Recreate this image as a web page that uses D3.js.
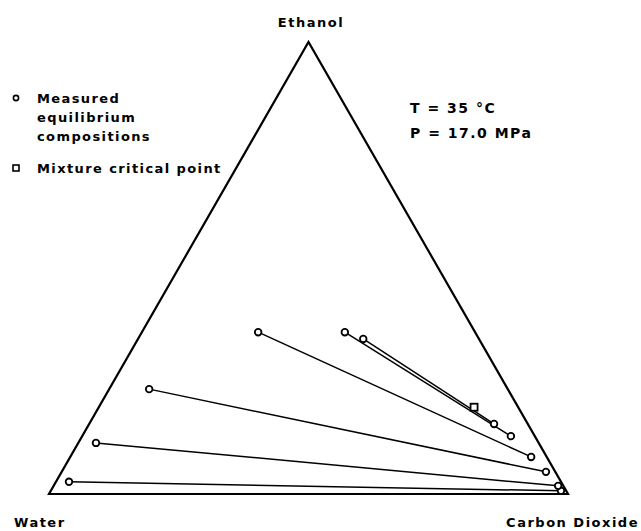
<!DOCTYPE html>
<html>
<head>
<meta charset="utf-8">
<script src="https://cdn.jsdelivr.net/npm/d3@7"></script>
<style>
  body { margin: 0; background: #fff; }
  text { font-family: "DejaVu Sans", sans-serif; font-weight: bold; fill: #000; }
</style>
</head>
<body>
<div id="chart"></div>
<script>
// Mass fractions (tie lines: liquid -> vapor)
const liqEthanol = [0.027, 0.113, 0.232, 0.358, 0.358, 0.343];
const liqCO2     = [0.025, 0.034, 0.077, 0.224, 0.391, 0.434];
const vapEthanol = [0.007, 0.018, 0.049, 0.082, 0.128, 0.155];
const vapCO2     = [0.983, 0.972, 0.933, 0.888, 0.826, 0.780];
const criticalEthanol = [0.192];
const criticalCO2     = [0.723];

const vertexLabels = ["Water", "Carbon Dioxide", "Ethanol"];
const legendLabels = [["Measured", "equilibrium", "compositions"], ["Mixture critical point"]];
const conditionLabels = ["T = 35 °C", "P = 17.0 MPa"];

const width = 641, height = 531;

const svg = d3.select("#chart").append("svg")
    .attr("width", width)
    .attr("height", height);

// ternary projection: x from CO2 + ethanol/2, y from ethanol
const x = d3.scaleLinear().domain([0, 1]).range([49, 568]);
const y = d3.scaleLinear().domain([0, 1]).range([494, 42]);
const px = (e, c) => x(c + e / 2);
const py = e => y(e);

// Triangle
const corners = [[0, 0], [0, 1], [1, 0]]; // [ethanol, co2]
svg.append("path")
    .attr("d", d3.line()(corners.map(d => [px(d[0], d[1]), py(d[0])])) + "Z")
    .attr("fill", "none")
    .attr("stroke", "#000")
    .attr("stroke-width", 2.2)
    .attr("stroke-linejoin", "miter");

// Tie lines
const ties = liqEthanol.map((e, i) => ({
    le: e, lc: liqCO2[i], ve: vapEthanol[i], vc: vapCO2[i]
}));

svg.append("g").selectAll("line")
    .data(ties)
    .join("line")
    .attr("x1", d => px(d.le, d.lc))
    .attr("y1", d => py(d.le))
    .attr("x2", d => px(d.ve, d.vc))
    .attr("y2", d => py(d.ve))
    .attr("stroke", "#000")
    .attr("stroke-width", 1.5);

// Measured points
const pts = ties.flatMap(d => [[d.le, d.lc], [d.ve, d.vc]]);
svg.append("g").selectAll("circle")
    .data(pts)
    .join("circle")
    .attr("cx", d => px(d[0], d[1]))
    .attr("cy", d => py(d[0]))
    .attr("r", 3.3)
    .attr("fill", "#fff")
    .attr("stroke", "#000")
    .attr("stroke-width", 1.8);

// Critical point
svg.append("g").selectAll("rect")
    .data(criticalEthanol.map((e, i) => [e, criticalCO2[i]]))
    .join("rect")
    .attr("x", d => px(d[0], d[1]) - 3.5)
    .attr("y", d => py(d[0]) - 3.5)
    .attr("width", 7)
    .attr("height", 7)
    .attr("fill", "#fff")
    .attr("stroke", "#000")
    .attr("stroke-width", 1.8);

// Vertex labels
const labelPos = [[14, 527, "start"], [639, 527, "end"], [311, 27, "middle"]];
svg.append("g").selectAll("text")
    .data(vertexLabels)
    .join("text")
    .attr("x", (d, i) => labelPos[i][0])
    .attr("y", (d, i) => labelPos[i][1])
    .attr("text-anchor", (d, i) => labelPos[i][2])
    .style("font-size", "13px")
    .style("letter-spacing", "1.5px")
    .text(d => d);

// Legend
const legend = svg.append("g");
legend.append("circle")
    .attr("cx", 16).attr("cy", 98).attr("r", 2.6)
    .attr("fill", "#fff").attr("stroke", "#000").attr("stroke-width", 1.6);
legend.append("rect")
    .attr("x", 13).attr("y", 165).attr("width", 6).attr("height", 6)
    .attr("fill", "#fff").attr("stroke", "#000").attr("stroke-width", 1.6);

legend.selectAll("text.l1")
    .data(legendLabels[0])
    .join("text")
    .attr("class", "l1")
    .attr("x", 37)
    .attr("y", (d, i) => 103 + i * 19)
    .style("font-size", "13px")
    .style("letter-spacing", "1.4px")
    .text(d => d);

legend.append("text")
    .attr("x", 37)
    .attr("y", 173)
    .style("font-size", "13px")
    .style("letter-spacing", "1.4px")
    .text(legendLabels[1][0]);

// Conditions
svg.append("g").selectAll("text")
    .data(conditionLabels)
    .join("text")
    .attr("x", 410)
    .attr("y", (d, i) => 113 + i * 25)
    .style("font-size", "14px")
    .style("letter-spacing", "1.5px")
    .text(d => d);
</script>
</body>
</html>
